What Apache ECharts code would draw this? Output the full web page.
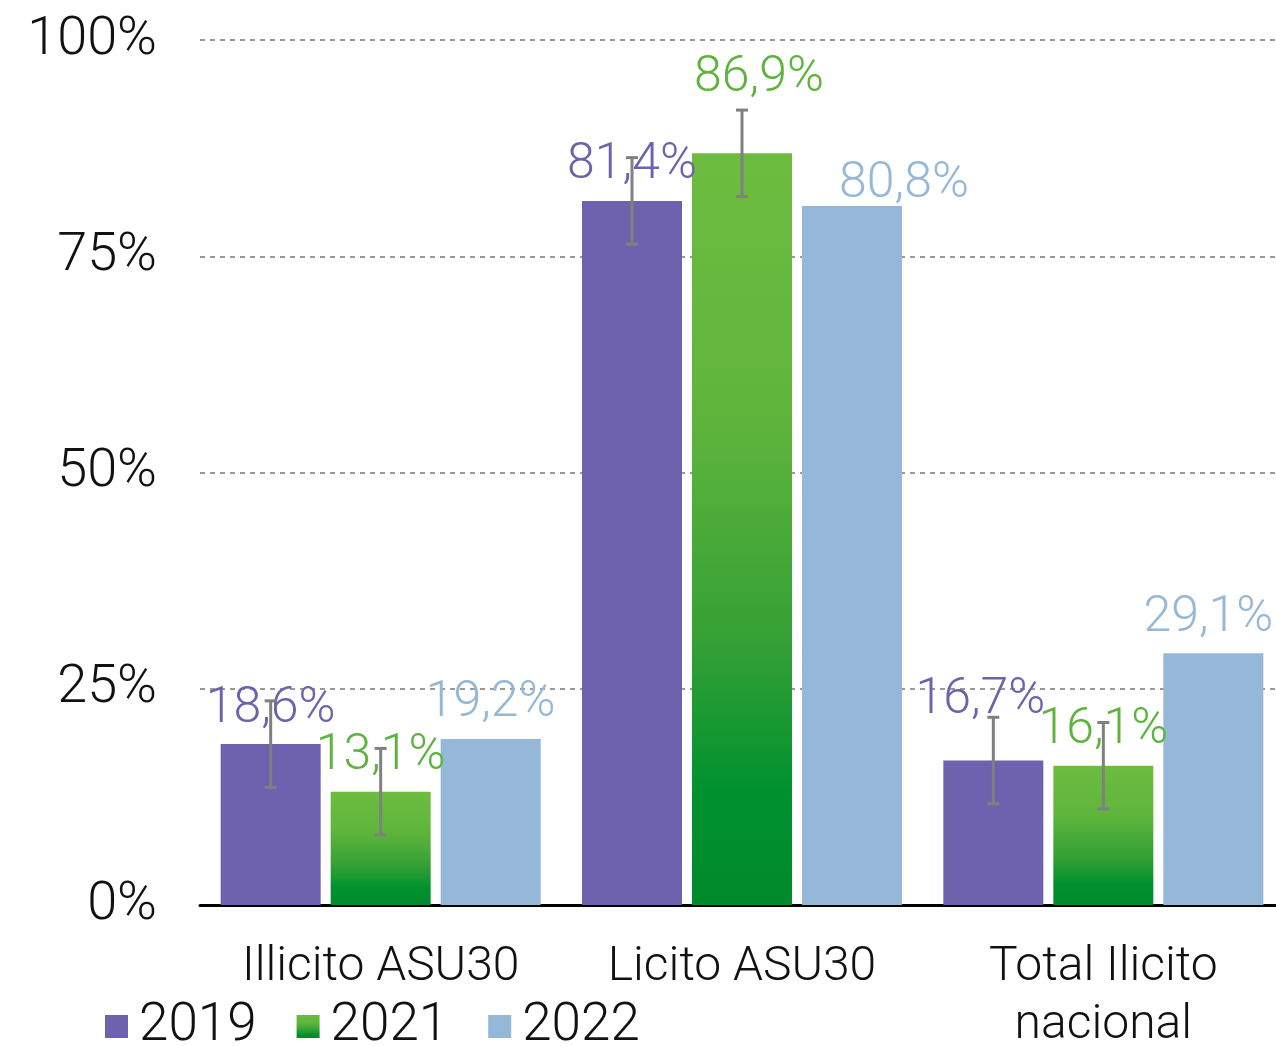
<!DOCTYPE html>
<html>
<head>
<meta charset="utf-8">
<script src="https://cdn.jsdelivr.net/npm/echarts@6/dist/echarts.min.js"></script>
<style>
html,body{margin:0;padding:0;background:#fff;}
#chart{width:1276px;height:1046px;}
</style>
</head>
<body>
<div id="chart"></div>
<script>
// ---- data ----
var categories = ['Illicito ASU30', 'Licito ASU30', 'Total Ilicito\nnacional'];
var seriesNames = ['2019', '2021', '2022'];
var values2019 = [18.6, 81.4, 16.7];
var values2021 = [13.1, 86.9, 16.1];
var values2022 = [19.2, 80.8, 29.1];
var errors2019 = [5, 5, 5];
var errors2021 = [5, 5, 5];
var yTicks = [0, 25, 50, 75, 100];

// ---- styling ----
var FONT = 'Roboto';
var purple = '#6e62ae';
var blue = '#95b8d9';
var greenGrad = new echarts.graphic.LinearGradient(0, 0, 0, 1, [
  {offset: 0, color: '#6dbc40'},
  {offset: 0.35, color: '#5fb53c'},
  {offset: 0.65, color: '#35a035'},
  {offset: 0.85, color: '#00912f'},
  {offset: 1, color: '#008a2c'}
]);
var labelColors = [purple, '#5cb33e', blue];
var barW = 100, barStep = 110;
// label nudges (manual placement as in the original)
var labelOffsets = [
  [[0,0],[0,0],[-13,-25]],
  [[0,0],[17,-40],[0,0]],
  [[0,0],[52,13],[-5,0]]
];

function fmt(v){ return v.toFixed(1).replace('.', ',') + '%'; }

function barSeries(name, vals, color, idx){
  return {
    name: name,
    type: 'bar',
    barWidth: barW,
    barGap: '10%',
    itemStyle: {color: color},
    z: 2,
    data: vals.map(function(v, i){
      return {value: v, label: {offset: labelOffsets[idx][i]}};
    }),
    label: {
      show: true,
      position: 'top',
      distance: 10,
      formatter: function(p){ return fmt(p.value); },
      color: labelColors[idx],
      fontFamily: FONT,
      fontWeight: 300,
      fontSize: 50
    }
  };
}

function errSeries(vals, errs, idx){
  return {
    type: 'custom',
    z: 5,
    silent: true,
    data: vals.map(function(v, i){ return [i, v - errs[i], v + errs[i]]; }),
    renderItem: function(params, api){
      var lo = api.coord([api.value(0), api.value(1)]);
      var hi = api.coord([api.value(0), api.value(2)]);
      var x = lo[0] + (idx - 1) * barStep;
      var cap = 6;
      var st = {stroke: '#808080', lineWidth: 3};
      return {
        type: 'group',
        children: [
          {type: 'line', shape: {x1: x, y1: lo[1], x2: x, y2: hi[1]}, style: st},
          {type: 'line', shape: {x1: x - cap, y1: lo[1], x2: x + cap, y2: lo[1]}, style: st},
          {type: 'line', shape: {x1: x - cap, y1: hi[1], x2: x + cap, y2: hi[1]}, style: st}
        ]
      };
    }
  };
}

var chart = echarts.init(document.getElementById('chart'), null, {renderer: 'canvas'});
chart.setOption({
  backgroundColor: '#ffffff',
  animation: false,
  grid: {left: 200, width: 1084, top: 40, height: 865, containLabel: false, outerBoundsMode: 'none'},
  legend: {
    left: 100,
    top: 995,
    icon: 'rect',
    itemWidth: 23,
    itemHeight: 23,
    itemGap: 40,
    data: seriesNames,
    textStyle: {fontFamily: FONT, fontWeight: 300, fontSize: 53, color: '#111', padding: [0, 0, 0, 6]}
  },
  xAxis: {
    type: 'category',
    data: categories,
    axisLine: {show: true, lineStyle: {color: '#000', width: 3}},
    axisTick: {show: false},
    axisLabel: {
      margin: 34,
      fontFamily: FONT,
      fontWeight: 300,
      fontSize: 48,
      lineHeight: 58,
      color: '#111',
      interval: 0
    }
  },
  yAxis: {
    type: 'value',
    min: yTicks[0],
    max: yTicks[yTicks.length - 1],
    interval: 25,
    axisLine: {show: false},
    axisTick: {show: false},
    axisLabel: {
      margin: 43,
      formatter: '{value}%',
      fontFamily: FONT,
      fontWeight: 300,
      fontSize: 54,
      color: '#111'
    },
    splitLine: {show: true, lineStyle: {color: '#999', width: 2, type: [5, 5]}}
  },
  series: [
    barSeries('2019', values2019, purple, 0),
    barSeries('2021', values2021, greenGrad, 1),
    barSeries('2022', values2022, blue, 2),
    errSeries(values2019, errors2019, 0),
    errSeries(values2021, errors2021, 1)
  ]
});
</script>
</body>
</html>
